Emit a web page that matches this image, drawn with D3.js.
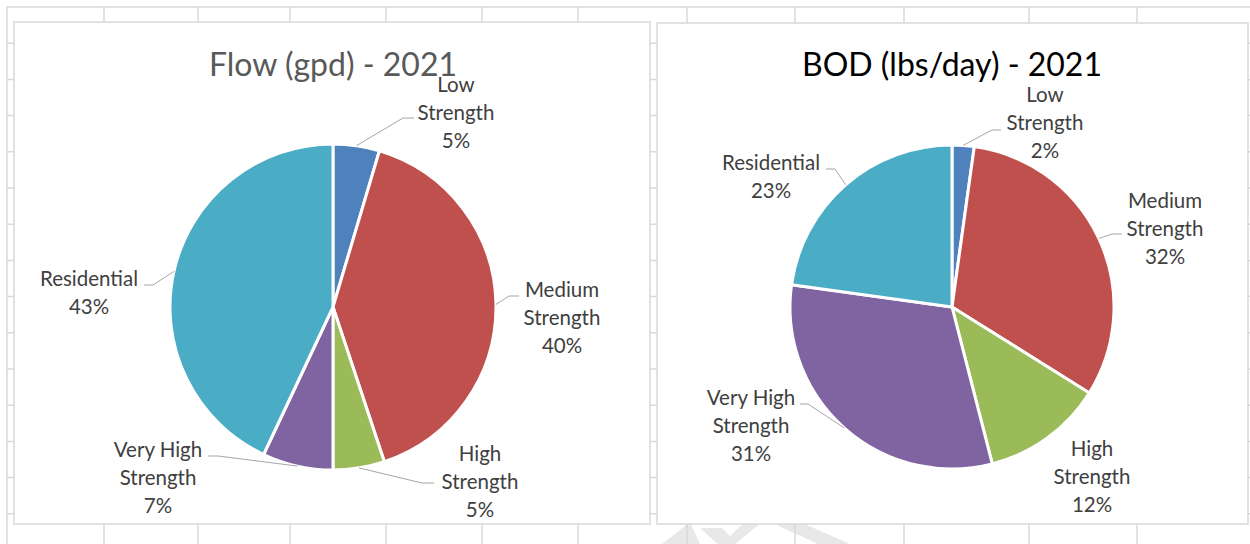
<!DOCTYPE html>
<html>
  <head>
    <meta charset="utf-8">
    <script src="https://d3js.org/d3.v7.min.js"></script>
    <title>Flow and BOD - 2021</title>
    <style>
      body {
        margin: 0px;
        background: #fff;
      }
      .grid line {
        stroke: #d9d9d9;
        stroke-width: 1.5;
      }
      .panel {
        fill: #fff;
        stroke: #d9d9d9;
        stroke-width: 1.5;
      }
      .title {
        font-family: Lato, sans-serif;
        font-size: 32px;
        text-anchor: middle;
      }
      .label text {
        fill: #404040;
        font-family: Lato, sans-serif;
        font-size: 20.5px;
        text-anchor: middle;
      }
      .leader {
        fill: none;
        stroke: #a6a6a6;
        stroke-width: 1;
      }
    </style>
  </head>
  <body>
    <svg width="1250" height="544"></svg>
    <script>

      // data
      const categories = ['Low Strength', 'Medium Strength', 'High Strength', 'Very High Strength', 'Residential'];
      const flowValues = [4.6, 40.3, 5.1, 7.0, 43.0];
      const bodValues = [2.2, 31.7, 12.1, 31.2, 22.8];
      const titles = ['Flow (gpd) - 2021', 'BOD (lbs/day) - 2021'];
      const colors = ['#4F81BD', '#C0504D', '#9BBB59', '#8064A2', '#4BACC6'];

      // sheet background
      const colLines = [7, 104, 198, 290, 386, 482, 578, 687, 795, 904, 1029, 1137];
      const rowStep = 36.2;

      // layout: label = [center x, first baseline] relative to pie center,
      // leader = [elbow, attach] relative to pie center
      const charts = [
        {
          title: titles[0], values: flowValues, titleColor: '#595959',
          panel: [14, 22, 636, 502], center: [333, 307], r: 163,
          labels: [
            { pos: [123, -215], leader: [[70, -189], [81, -189]] },
            { pos: [229, -10], leader: [[176, -11], [186, -11]] },
            { pos: [147, 154], leader: [[89, 176], [101, 176]] },
            { pos: [-175, 150], leader: [[-115, 149], [-125, 149]] },
            { pos: [-244, -21], leader: [[-180, -22], [-189, -22]] }
          ]
        },
        {
          title: titles[1], values: bodValues, titleColor: '#000000',
          panel: [657, 23, 591, 501], center: [952, 307], r: 162,
          labels: [
            { pos: [93, -205], leader: [[40, -177], [49, -177]] },
            { pos: [213, -99], leader: [[160, -73], [170, -73]] },
            { pos: [140, 149], leader: null },
            { pos: [-201, 98], leader: [[-144, 97], [-152, 97]] },
            { pos: [-181, -137], leader: [[-117, -138], [-126, -138]] }
          ]
        }
      ];

      const svg = d3.select('svg');
      const width = +svg.attr('width');
      const height = +svg.attr('height');

      // faint watermark pieces peeking out below the charts
      const wm = svg.append('g').attr('fill', '#e8e8e8');
      [
        [[662, 544], [690, 522], [700, 544]],
        [[700, 528], [722, 528], [730, 536], [745, 522], [762, 522], [735, 544], [718, 544]],
        [[770, 522], [800, 522], [850, 544], [818, 544]]
      ].forEach(p => wm.append('polygon').attr('points', p.join(' ')));

      const grid = svg.append('g').attr('class', 'grid');
      grid.selectAll('.col').data(colLines)
        .enter().append('line')
          .attr('x1', d => d).attr('x2', d => d)
          .attr('y1', 7).attr('y2', height);
      grid.selectAll('.row').data(d3.range(7, height, rowStep))
        .enter().append('line')
          .attr('x1', 7).attr('x2', width)
          .attr('y1', d => d).attr('y2', d => d);

      const pie = d3.pie().sort(null).value(d => d);
      const pct = d3.format('.0%');
      const splitName = name => name.replace(/ (Strength)$/, '\n$1').split('\n');

      charts.forEach(c => {
        const [px, py, pw, ph] = c.panel;
        svg.append('rect')
          .attr('class', 'panel')
          .attr('x', px).attr('y', py)
          .attr('width', pw).attr('height', ph);

        svg.append('text')
          .attr('class', 'title')
          .attr('x', c.center[0])
          .attr('y', 76)
          .attr('fill', c.titleColor)
          .text(c.title);

        const g = svg.append('g')
          .attr('transform', `translate(${c.center[0]},${c.center[1]})`);

        const total = d3.sum(c.values);
        const arcs = pie(c.values);
        const arc = d3.arc().innerRadius(0).outerRadius(c.r);

        g.selectAll('path.slice').data(arcs)
          .enter().append('path')
            .attr('class', 'slice')
            .attr('d', arc)
            .attr('fill', (d, i) => colors[i])
            .attr('stroke', '#fff')
            .attr('stroke-width', 3)
            .attr('stroke-linejoin', 'round');

        arcs.forEach((d, i) => {
          const lab = c.labels[i];
          if (lab.leader) {
            const a = (d.startAngle + d.endAngle) / 2;
            const start = [c.r * Math.sin(a), -c.r * Math.cos(a)];
            g.append('path')
              .attr('class', 'leader')
              .attr('d', d3.line()([start, lab.leader[0], lab.leader[1]]));
          }
          const lines = splitName(categories[i]).concat(pct(d.value / total));
          const t = g.append('g').attr('class', 'label');
          lines.forEach((s, k) => {
            t.append('text')
              .attr('x', lab.pos[0])
              .attr('y', lab.pos[1] + k * 28)
              .text(s);
          });
        });
      });
    </script>
  </body>
</html>
